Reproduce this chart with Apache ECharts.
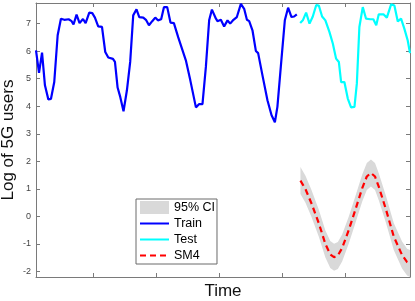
<!DOCTYPE html>
<html><head><meta charset="utf-8">
<script src="https://cdn.jsdelivr.net/npm/echarts@6/dist/echarts.min.js"></script>
<style>html,body{margin:0;padding:0;background:#fff}#c{width:415px;height:301px}</style>
</head><body><div id="c"></div>
<script>
const trainX = [4.8,7.2,9.6,11.9,14.6,16.7,19.3,22.0,24.6,27.3,30.7,33.1,34.6,37.0,39.4,42.1,44.2,47.1,49.5,51.6,54.2,57.2,59.8,62.2,65.9,67.5,69.6,71.7,74.3,77.0,79.6,82.0,84.6,86.8,90.0,92.1,94.5,97.1,99.5,101.6,104.2,106.4,109.0,111.6,114.3,117.7,123.8,127.3,131.8,134.4,137.0,139.7,142.3,144.5,147.7,148.9,151.6,154.2,156.9,159.0,161.6,164.3,167.5,170.1,172.3,174.1,176.7,179.4,181.2,184.6,188.6,191.8,194.5,196.5,199.2,202.4,205.0,207.7,209.8,211.9];
const trainY = [6.03,5.21,5.95,4.76,4.25,4.27,4.88,6.58,7.18,7.14,7.16,7.09,6.97,7.33,7.02,7.17,7.02,7.40,7.38,7.22,6.90,6.88,5.97,5.77,5.72,5.61,4.68,4.34,3.82,4.58,5.61,7.30,7.52,7.24,7.22,7.14,6.94,7.09,7.22,7.12,7.16,7.60,7.60,7.04,7.02,6.51,5.67,4.95,3.96,4.08,4.08,5.43,7.12,7.51,7.18,7.09,7.14,6.90,7.12,7.00,7.14,7.24,7.72,7.54,7.14,7.09,6.76,6.01,5.93,5.13,4.22,3.68,3.42,3.98,5.43,7.12,7.58,7.24,7.26,7.34];
const testX = [214.6,216.7,219.3,222.0,224.6,227.3,229.4,232.0,234.6,237.8,240.5,243.1,245.3,247.1,249.7,252.4,255.0,257.7,259.6,261.6,264.3,266.9,270.2,272.7,275.0,277.0,280.7,283.4,286.8,289.4,292.1,294.7,297.3,300.0,301.8];
const testY = [7.02,7.12,7.40,7.00,7.26,7.67,7.66,7.26,7.12,6.70,6.28,5.73,5.61,4.88,4.88,4.28,3.96,3.98,4.83,6.88,7.60,7.18,7.16,7.16,6.94,7.34,7.34,7.22,7.70,7.66,7.08,7.18,6.82,6.39,5.93];
const smX = [214.8,218.8,223.5,229.4,234.6,238.5,241.5,244.5,247.9,253.2,258.4,263.8,267.5,270.8,274.0,277.0,282.8,288.9,295.5,299.5,302.1];
const smY = [1.30,0.99,0.48,-0.25,-1.00,-1.38,-1.48,-1.42,-1.15,-0.49,0.24,1.02,1.45,1.58,1.45,1.08,0.24,-0.73,-1.40,-1.66,-1.72];
const ciUpper = [1.79,1.48,0.97,0.24,-0.51,-0.89,-0.99,-0.93,-0.66,0.00,0.73,1.51,1.94,2.07,1.94,1.57,0.73,-0.24,-0.91,-1.17,-1.23];
const ciLower = [0.81,0.50,-0.01,-0.74,-1.49,-1.87,-1.97,-1.91,-1.64,-0.98,-0.25,0.53,0.96,1.09,0.96,0.59,-0.25,-1.22,-1.89,-2.15,-2.21];
const yTicks = [-2,-1,0,1,2,3,4,5,6,7];
const xTicks = [50,100,150,200,250];
const legendNames = ['95% CI','Train','Test','SM4'];

const FONT = "'Liberation Sans', Arial, Helvetica, sans-serif";
const AX = '#7a7a7a';
const X_MIN = 4.8, X_MAX = 301.8, Y_MIN = -2.2, Y_MAX = 7.75;

function xAxisDef(pos, named) {
  return {
    type: 'value', position: pos, min: X_MIN, max: X_MAX,
    axisLine: {show: true, onZero: false, lineStyle: {color: AX, width: 1}},
    axisTick: {show: true, inside: true, length: 4, customValues: xTicks, lineStyle: {color: AX}},
    axisLabel: {show: false}, splitLine: {show: false},
    name: named ? 'Time' : '', nameLocation: 'middle', nameGap: 6, nameMoveOverlap: false,
    nameTextStyle: {fontSize: 17, color: '#111', fontFamily: FONT}
  };
}
function yAxisDef(pos, named) {
  return {
    type: 'value', position: pos, min: Y_MIN, max: Y_MAX,
    axisLine: {show: true, onZero: false, lineStyle: {color: AX, width: 1}},
    axisTick: {show: true, inside: true, length: 4, customValues: yTicks, lineStyle: {color: AX}},
    axisLabel: {show: named, customValues: yTicks, fontSize: 9, color: '#444', margin: 5, fontFamily: FONT},
    splitLine: {show: false},
    name: named ? 'Log of 5G users' : '', nameLocation: 'middle', nameGap: 19, nameMoveOverlap: false,
    nameTextStyle: {fontSize: 17, color: '#111', fontFamily: FONT}
  };
}

const chart = echarts.init(document.getElementById('c'), null, {renderer: 'canvas'});
chart.setOption({
  animation: false,
  backgroundColor: '#fff',
  grid: {left: 36, right: 5, top: 3, bottom: 24, containLabel: false, outerBoundsMode: 'none'},
  xAxis: [xAxisDef('bottom', true), xAxisDef('top', false)],
  yAxis: [yAxisDef('left', true), yAxisDef('right', false)],
  legend: {
    orient: 'vertical', left: 136, top: 199,
    padding: [2, 2, 2, 3], itemGap: 3, itemWidth: 29, itemHeight: 13,
    backgroundColor: '#fff', borderColor: '#6a6a6a', borderWidth: 1,
    textStyle: {fontSize: 12.5, color: '#000', fontFamily: FONT},
    data: [
      {name: legendNames[0], icon: 'rect'},
      {name: legendNames[1], itemStyle: {opacity: 0}},
      {name: legendNames[2], itemStyle: {opacity: 0}},
      {name: legendNames[3], itemStyle: {opacity: 0}}
    ]
  },
  series: [
    {
      name: legendNames[0], type: 'custom', xAxisIndex: 0, yAxisIndex: 0, z: 1,
      itemStyle: {color: '#d9d9d9'},
      data: [[smX[0], smY[0]]],
      renderItem: function (params, api) {
        const pts = [];
        for (let i = 0; i < smX.length; i++) pts.push(api.coord([smX[i], ciUpper[i]]));
        for (let i = smX.length - 1; i >= 0; i--) pts.push(api.coord([smX[i], ciLower[i]]));
        const cs = params.coordSys;
        return {
          type: 'polygon', shape: {points: pts}, style: {fill: '#d9d9d9'},
          clipPath: {type: 'rect', shape: {x: cs.x, y: cs.y, width: cs.width, height: cs.height}}
        };
      }
    },
    {
      name: legendNames[1], type: 'line', symbol: 'none', showSymbol: false, z: 3,
      data: trainX.map((x, i) => [x, trainY[i]]),
      lineStyle: {color: '#0000ff', width: 2.2}, itemStyle: {color: '#0000ff'}
    },
    {
      name: legendNames[2], type: 'line', symbol: 'none', showSymbol: false, z: 3,
      data: testX.map((x, i) => [x, testY[i]]),
      lineStyle: {color: '#00ffff', width: 2.2}, itemStyle: {color: '#00ffff'}
    },
    {
      name: legendNames[3], type: 'line', symbol: 'none', showSymbol: false, z: 4,
      data: smX.map((x, i) => [x, smY[i]]),
      lineStyle: {color: '#ff0000', width: 2.2, type: [6, 4]}, itemStyle: {color: '#ff0000'}
    }
  ]
});
</script>
</body></html>
